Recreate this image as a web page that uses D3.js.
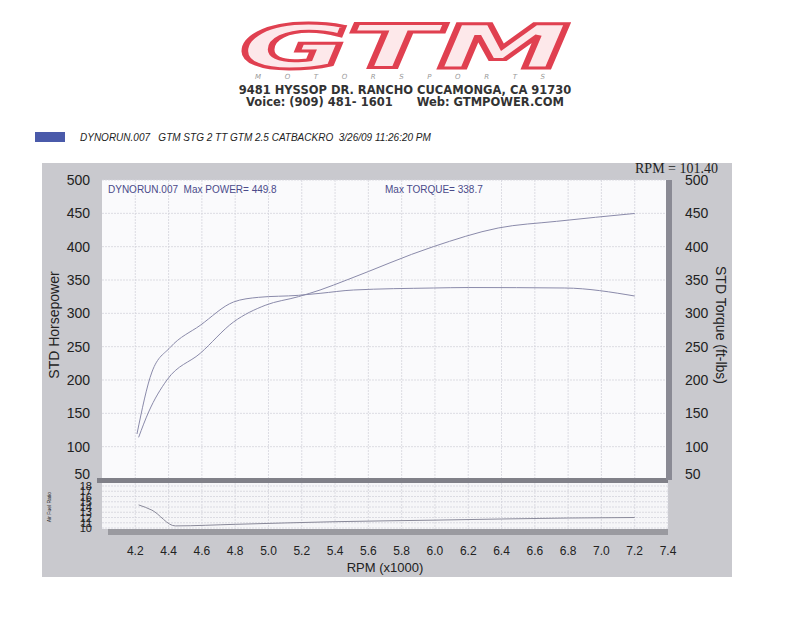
<!DOCTYPE html>
<html><head><meta charset="utf-8">
<script src="https://cdnjs.cloudflare.com/ajax/libs/d3/7.8.5/d3.min.js"></script>
<style>body{margin:0;background:#fff}</style></head>
<body><script>
const rpmTicks=[4.2,4.4,4.6,4.8,5.0,5.2,5.4,5.6,5.8,6.0,6.2,6.4,6.6,6.8,7.0,7.2,7.4];
const powerTicks=[50,100,150,200,250,300,350,400,450,500];
const afrTicks=[10,11,12,13,14,15,16,17,18];
const hpRpm=[4.22,4.28,4.39,4.59,4.79,4.98,5.18,5.31,5.47,5.99,6.38,6.73,7.2];
const hpVal=[114,152,200,240,287,312,325,335,350,400,428,438,449.8];
const tqRpm=[4.21,4.30,4.41,4.59,4.79,4.94,5.18,5.31,5.51,5.99,6.2,6.78,7.2];
const tqVal=[119,212,249,282,317,324,327,330,335,338,338.7,338,326];
const afrRpm=[4.22,4.3,4.44,4.8,5.4,6.0,6.8,7.2];
const afrVal=[14.4,13.4,10.4,10.7,11.2,11.5,11.9,12.0];

const W=799,H=618;
const svg=d3.select("body").append("svg").attr("width",W).attr("height",H);
// header
svg.append("text").attr("x",405).attr("y",68).attr("text-anchor","middle")
 .attr("font-family","DejaVu Sans").attr("font-weight","bold").attr("font-style","italic")
 .attr("font-size",60).attr("textLength",330).attr("lengthAdjust","spacingAndGlyphs")
 .attr("fill","#fde8ea").attr("stroke","#e04050").attr("stroke-width",3).text("GTM");
svg.append("text").attr("x",400).attr("y",79).attr("text-anchor","middle").attr("font-family","DejaVu Sans")
 .attr("font-style","italic").attr("font-size",7).attr("fill","#999").attr("textLength",290).text("MOTORSPORTS");
svg.append("text").attr("x",405).attr("y",94).attr("text-anchor","middle").attr("font-family","DejaVu Sans")
 .attr("font-weight","bold").attr("font-size",11.5).attr("fill","#333").text("9481 HYSSOP DR. RANCHO CUCAMONGA, CA 91730");
svg.append("text").attr("x",405).attr("y",106).attr("text-anchor","middle").attr("font-family","DejaVu Sans")
 .attr("font-weight","bold").attr("font-size",11.5).attr("fill","#333").attr("xml:space","preserve").text("Voice: (909) 481- 1601      Web: GTMPOWER.COM");
// legend
svg.append("rect").attr("x",35).attr("y",132).attr("width",30).attr("height",10).attr("fill","#4a5aaa");
svg.append("text").attr("x",80).attr("y",141).attr("font-family","Liberation Sans").attr("font-style","italic")
 .attr("font-size",10).attr("fill","#222").attr("xml:space","preserve").text("DYNORUN.007   GTM STG 2 TT GTM 2.5 CATBACKRO  3/26/09 11:26:20 PM");
// panel
svg.append("rect").attr("x",42).attr("y",163).attr("width",690).attr("height",414).attr("fill","#c9c9ce");
const x=d3.scaleLinear().domain([4.0,7.4]).range([102,668]);
const y=d3.scaleLinear().domain([50,500]).range([480,180]);
const ya=d3.scaleLinear().domain([10,18]).range([528,486]);
svg.append("rect").attr("x",102).attr("y",180).attr("width",566).attr("height",300).attr("fill","#fafafc");
svg.append("rect").attr("x",102).attr("y",483).attr("width",566).attr("height",46).attr("fill","#f6f6f8");
const g=svg.append("g").attr("stroke","#d4d4dc").attr("stroke-width",0.8);
rpmTicks.forEach(t=>{g.append("line").attr("x1",x(t)).attr("x2",x(t)).attr("y1",180).attr("y2",480).attr("stroke-dasharray","2,1");
 g.append("line").attr("x1",x(t)).attr("x2",x(t)).attr("y1",483).attr("y2",529).attr("stroke-dasharray","2,1");});
powerTicks.forEach(t=>g.append("line").attr("x1",102).attr("x2",668).attr("y1",y(t)).attr("y2",y(t)).attr("stroke-dasharray","2,1"));
afrTicks.forEach(t=>g.append("line").attr("x1",102).attr("x2",668).attr("y1",ya(t)).attr("y2",ya(t)).attr("stroke-dasharray","2,1"));
// dark bars
svg.append("rect").attr("x",97).attr("y",478).attr("width",571).attr("height",5).attr("fill","#808088");
svg.append("rect").attr("x",666).attr("y",180).attr("width",6).attr("height",300).attr("fill","#8a8a94");
svg.append("rect").attr("x",108).attr("y",529).attr("width",560).attr("height",6).attr("fill","#9a9aa0");
// axes text
const ax=svg.append("g").attr("font-family","Liberation Sans").attr("font-size",14).attr("fill","#222");
powerTicks.forEach(t=>{ax.append("text").attr("x",90).attr("y",y(t)+(t===50?-1:5)).attr("text-anchor","end").text(t);
 ax.append("text").attr("x",685).attr("y",y(t)+(t===50?-1:5)).text(t);});
afrTicks.forEach(t=>ax.append("text").attr("x",92).attr("y",ya(t)+4).attr("text-anchor","end").attr("font-size",11).text(t));
rpmTicks.forEach(t=>ax.append("text").attr("x",x(t)).attr("y",555).attr("text-anchor","middle").attr("font-size",12).text(d3.format(".1f")(t)));
ax.append("text").attr("x",385).attr("y",572).attr("text-anchor","middle").attr("font-size",13).text("RPM (x1000)");
ax.append("text").attr("transform","translate(59,325) rotate(-90)").attr("text-anchor","middle").attr("font-size",14).text("STD Horsepower");
ax.append("text").attr("transform","translate(716,325) rotate(90)").attr("text-anchor","middle").attr("font-size",14).text("STD Torque (ft-lbs)");
ax.append("text").attr("transform","translate(51,507) rotate(-90)").attr("text-anchor","middle").attr("font-size",5).text("Air Fuel Ratio");
svg.append("text").attr("x",718).attr("y",173).attr("text-anchor","end").attr("font-family","Liberation Serif").attr("font-size",14).attr("fill","#222").text("RPM = 101.40");
// labels in plot
const lt=svg.append("g").attr("font-family","Liberation Sans").attr("font-size",10).attr("fill","#4a4a8a");
lt.append("text").attr("x",108).attr("y",193).attr("xml:space","preserve").text("DYNORUN.007  Max POWER= "+d3.max(hpVal));
lt.append("text").attr("x",385).attr("y",193).text("Max TORQUE= "+d3.max(tqVal));
// curves
const line=d3.line().curve(d3.curveMonotoneX);
svg.append("path").attr("d",line(hpRpm.map((r,i)=>[x(r),y(hpVal[i])]))).attr("fill","none").attr("stroke","#8a8aaa").attr("stroke-width",1);
svg.append("path").attr("d",line(tqRpm.map((r,i)=>[x(r),y(tqVal[i])]))).attr("fill","none").attr("stroke","#8a8aaa").attr("stroke-width",1);
svg.append("path").attr("d",line(afrRpm.map((r,i)=>[x(r),ya(afrVal[i])]))).attr("fill","none").attr("stroke","#8a8a9a").attr("stroke-width",1);
</script></body></html>
